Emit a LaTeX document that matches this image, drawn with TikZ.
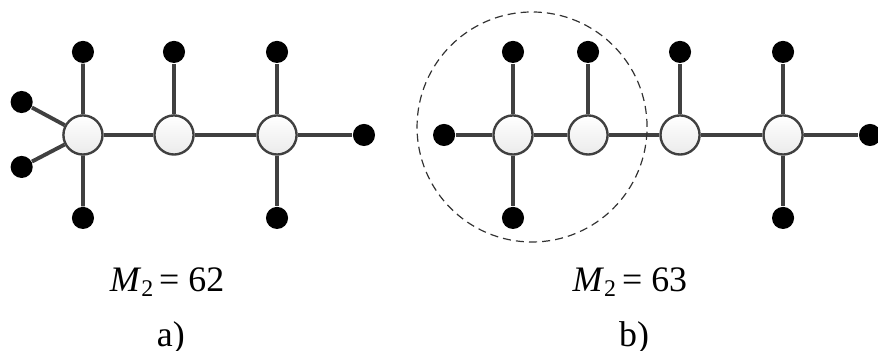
\documentclass[tikz,border=0pt]{standalone}
\usepackage{fontspec}
\setmainfont{Liberation Serif}
\usepackage{tikz}
\tikzset{
  hub/.style={circle,draw=black!75,line width=0.8pt,top color=white,bottom color=black!8,minimum size=0.46cm,inner sep=0pt},
  leaf/.style={circle,fill=black,minimum size=0.26cm,inner sep=0pt},
  bond/.style={draw=black!75,line width=1.3pt},
  caption/.style={anchor=base,font=\fontsize{12}{14}\selectfont}
}
\begin{document}
\begin{tikzpicture}
\useasboundingbox (0,0) rectangle (10.329,4.129);
% graph a)
\node[hub] (a1) at (0.976,2.541) {};
\node[hub] (a2) at (2.047,2.541) {};
\node[hub] (a3) at (3.259,2.541) {};
\node[leaf] (a1t) at (0.976,3.518) {};
\node[leaf] (a1b) at (0.976,1.565) {};
\node[leaf] (a1u) at (0.255,2.929) {};
\node[leaf] (a1d) at (0.255,2.165) {};
\node[leaf] (a2t) at (2.047,3.518) {};
\node[leaf] (a3t) at (3.259,3.518) {};
\node[leaf] (a3b) at (3.259,1.565) {};
\node[leaf] (a3r) at (4.282,2.541) {};
\draw[bond] (a1)--(a2) (a2)--(a3) (a3)--(a3r);
\draw[bond] (a1)--(a1t) (a1)--(a1b) (a1)--(a1u) (a1)--(a1d);
\draw[bond] (a2)--(a2t) (a3)--(a3t) (a3)--(a3b);
% graph b)
\node[hub] (b1) at (6.035,2.541) {};
\node[hub] (b2) at (6.918,2.541) {};
\node[hub] (b3) at (8.0,2.541) {};
\node[hub] (b4) at (9.212,2.541) {};
\node[leaf] (b1l) at (5.224,2.541) {};
\node[leaf] (b1t) at (6.035,3.518) {};
\node[leaf] (b1b) at (6.035,1.565) {};
\node[leaf] (b2t) at (6.918,3.518) {};
\node[leaf] (b3t) at (8.0,3.518) {};
\node[leaf] (b4t) at (9.212,3.518) {};
\node[leaf] (b4b) at (9.212,1.565) {};
\node[leaf] (b4r) at (10.235,2.541) {};
\draw[bond] (b1l)--(b1) (b1)--(b2) (b2)--(b3) (b3)--(b4) (b4)--(b4r);
\draw[bond] (b1)--(b1t) (b1)--(b1b) (b2)--(b2t) (b3)--(b3t);
\draw[bond] (b4)--(b4t) (b4)--(b4b);
\draw[black!80,line width=0.4pt,dash pattern=on 2.7pt off 1.7pt] (6.259,2.635) circle (1.353);
% captions
\node[caption] (capa) at (1.965,0.694) {\textit{M}\raisebox{-0.3ex}{\fontsize{8}{9}\selectfont 2}\,= 62};
\node[caption] (taga) at (2.01,0.047) {a)};
\node[caption] (capb) at (7.41,0.694) {\textit{M}\raisebox{-0.3ex}{\fontsize{8}{9}\selectfont 2}\,= 63};
\node[caption] (tagb) at (7.46,0.047) {b)};
\end{tikzpicture}
\end{document}
